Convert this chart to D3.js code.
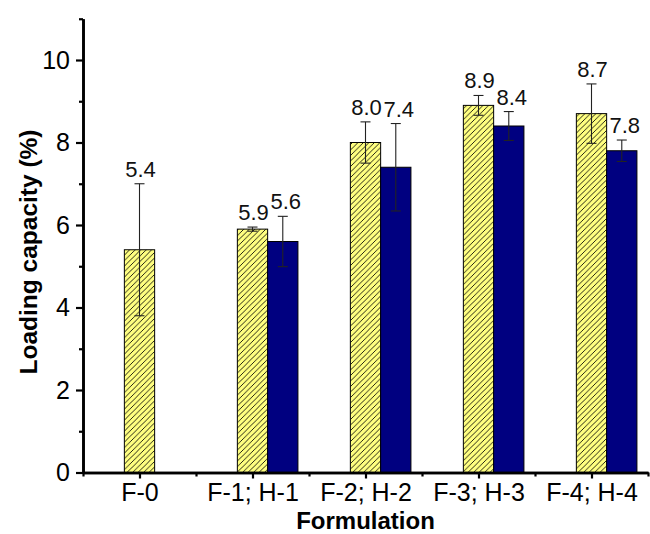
<!DOCTYPE html>
<html>
<head>
<meta charset="utf-8">
<script src="https://cdn.jsdelivr.net/npm/d3@7"></script>
<style>
  html, body { margin: 0; padding: 0; background: #fff; }
  svg { display: block; font-family: "Liberation Sans", Arial, sans-serif; }
</style>
</head>
<body>
<svg id="chart" width="650" height="534"></svg>
<script>
// Formulation groups on the x axis
const categories = ["F-0", "F-1; H-1", "F-2; H-2", "F-3; H-3", "F-4; H-4"];

// F series (hatched yellow) – loading capacity, % and its SD
const fValues = [5.4, 5.9, 8.0, 8.9, 8.7];
const fErrors = [1.6, 0.05, 0.5, 0.24, 0.72];

// H series (navy) – no H-0 formulation, so the first slot is empty
const hValues = [null, 5.6, 7.4, 8.4, 7.8];
const hErrors = [null, 0.61, 1.06, 0.35, 0.26];

// Axis ticks
const yMajorTicks = [0, 2, 4, 6, 8, 10];
const yMinorTicks = [1, 3, 5, 7, 9, 11];
const xMinorTicks = [-0.5, 0.5, 1.5, 2.5, 3.5, 4.5];

const svg = d3.select("#chart");

const x = d3.scaleLinear().domain([-0.5, 4.5]).range([83, 648]);
const y = d3.scaleLinear().domain([0, 11]).range([472.5, 18.75]);
const barW = 0.268; // bar width in category units

// diagonal hatch for the F bars
const defs = svg.append("defs");
const pat = defs.append("pattern")
  .attr("id", "hatch")
  .attr("patternUnits", "userSpaceOnUse")
  .attr("width", 5.5).attr("height", 5.5);
pat.append("rect").attr("width", 5.5).attr("height", 5.5).attr("fill", "#ffff80");
pat.append("path")
  .attr("d", "M0,5.5 L5.5,0 M-1,1 L1,-1 M4.5,6.5 L6.5,4.5")
  .attr("stroke", "#000").attr("stroke-width", 0.85);

// build bar records
const bars = [];
categories.forEach((c, i) => {
  bars.push({ i, v: fValues[i], e: fErrors[i], x0: i - barW / 2, x1: i + barW / 2,
              fill: "url(#hatch)", dx: 1 });
  if (hValues[i] != null) {
    bars.push({ i, v: hValues[i], e: hErrors[i], x0: i + barW / 2, x1: i + barW * 1.5,
                fill: "#000080", dx: 3 });
  }
});

const g = svg.append("g");

g.selectAll("rect.bar").data(bars).join("rect")
  .attr("class", "bar")
  .attr("x", d => x(d.x0))
  .attr("width", d => x(d.x1) - x(d.x0))
  .attr("y", d => y(d.v))
  .attr("height", d => y(0) - y(d.v))
  .attr("fill", d => d.fill)
  .attr("stroke", "#000")
  .attr("stroke-width", 1);

// error bars
const capHalf = 5;
const mid = d => x((d.x0 + d.x1) / 2);
const eb = g.selectAll("g.err").data(bars).join("g").attr("class", "err")
  .attr("stroke", "#222").attr("stroke-width", 1.1);
eb.append("line")
  .attr("x1", mid).attr("x2", mid)
  .attr("y1", d => y(d.v + d.e)).attr("y2", d => y(d.v - d.e));
eb.append("line")
  .attr("x1", d => mid(d) - capHalf).attr("x2", d => mid(d) + capHalf)
  .attr("y1", d => y(d.v + d.e)).attr("y2", d => y(d.v + d.e));
eb.append("line")
  .attr("x1", d => mid(d) - capHalf).attr("x2", d => mid(d) + capHalf)
  .attr("y1", d => y(d.v - d.e)).attr("y2", d => y(d.v - d.e));

// value labels above the error bars
g.selectAll("text.val").data(bars).join("text")
  .attr("class", "val")
  .attr("x", d => mid(d) + d.dx)
  .attr("y", d => y(d.v + d.e) - 7)
  .attr("text-anchor", "middle")
  .attr("font-size", 22)
  .attr("fill", "#111")
  .text(d => d.v.toFixed(1));

// axes
function styleAxis(sel, w) {
  sel.selectAll("path.domain").attr("stroke", "#000").attr("stroke-width", w);
  sel.selectAll(".tick line").attr("stroke", "#000").attr("stroke-width", 2.2);
}

const yMinor = svg.append("g").attr("transform", `translate(${x(-0.5)},0)`)
  .call(d3.axisLeft(y).tickValues(yMinorTicks).tickSize(4).tickSizeOuter(0).tickFormat(""));
styleAxis(yMinor, 2.6);
const yAxis = svg.append("g").attr("transform", `translate(${x(-0.5)},0)`)
  .call(d3.axisLeft(y).tickValues(yMajorTicks).tickSize(7).tickSizeOuter(0).tickPadding(6));
styleAxis(yAxis, 2.6);
yAxis.selectAll("text").attr("font-size", 25).attr("fill", "#000")
  .attr("font-family", "'Liberation Sans', Arial, sans-serif");

const xMinor = svg.append("g").attr("transform", `translate(0,${y(0)})`)
  .call(d3.axisBottom(x).tickValues(xMinorTicks).tickSize(4).tickSizeOuter(0).tickFormat(""));
styleAxis(xMinor, 2.6);
const xAxis = svg.append("g").attr("transform", `translate(0,${y(0)})`)
  .call(d3.axisBottom(x).tickValues(d3.range(categories.length)).tickSize(6).tickSizeOuter(0)
    .tickPadding(5).tickFormat(i => categories[i]));
styleAxis(xAxis, 2.6);
xAxis.selectAll("text").attr("font-size", 25).attr("fill", "#000")
  .attr("font-family", "'Liberation Sans', Arial, sans-serif");

// axis titles
svg.append("text")
  .attr("x", (x(-0.5) + x(4.5)) / 2).attr("y", 529)
  .attr("text-anchor", "middle").attr("font-size", 24).attr("font-weight", "bold")
  .text("Formulation");

svg.append("text")
  .attr("transform", "translate(37,252) rotate(-90)")
  .attr("text-anchor", "middle").attr("font-size", 24.5).attr("font-weight", "bold")
  .text("Loading capacity (%)");
</script>
</body>
</html>
